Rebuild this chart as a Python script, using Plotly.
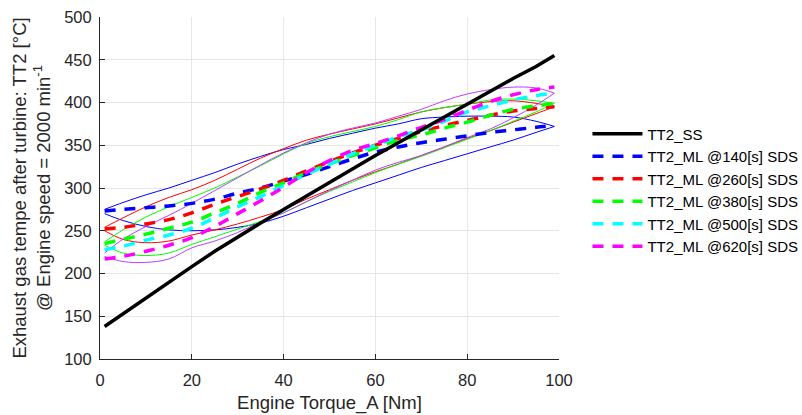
import plotly.graph_objects as go

# ---------------- data ----------------
x_ss = [1, 5, 10, 15, 20, 25, 30, 35, 40, 45, 50, 55, 60, 65, 70, 75, 80, 85, 90, 95, 99]
tt2_ss = [138, 153, 171, 190, 208, 226, 243, 259, 275, 291, 307, 323, 338, 353, 368, 384, 399, 414, 428, 442, 455]

x_ml = [1, 5, 10, 15, 20, 25, 30, 35, 40, 45, 50, 55, 60, 65, 70, 75, 80, 85, 90, 95, 99]

ml140_mean = [273, 275, 277, 279, 282, 287, 294, 300, 308, 316, 325, 334, 342, 348, 353, 357, 361, 365, 368, 371, 373]
ml140_upper = [275, 283, 292, 300, 309, 318, 328, 337, 345, 351, 358, 364, 370, 375, 381, 383, 384, 384, 383, 378, 372]
ml140_lower = [270, 262, 255, 251, 250, 251, 254, 259, 267, 277, 287, 297, 306, 315, 324, 332, 340, 348, 356, 365, 372]

ml260_mean = [252, 254, 258, 263, 271, 281, 290, 299, 309, 320, 331, 341, 350, 358, 366, 373, 379, 385, 390, 393, 395]
ml260_upper = [254, 265, 278, 289, 298, 309, 322, 335, 346, 356, 363, 369, 375, 382, 389, 394, 398, 401, 402, 399, 395]
ml260_lower = [250, 240, 236, 238, 245, 251, 258, 266, 275, 287, 298, 309, 319, 328, 338, 348, 358, 367, 377, 387, 395]

ml380_mean = [235, 240, 246, 253, 260, 271, 282, 295, 306, 318, 328, 338, 347, 356, 362, 370, 377, 385, 392, 396, 399]
ml380_upper = [237, 251, 266, 278, 289, 300, 313, 326, 340, 352, 360, 366, 372, 380, 389, 394, 398, 403, 404, 402, 399]
ml380_lower = [233, 224, 221, 224, 234, 243, 252, 261, 271, 284, 296, 307, 318, 328, 337, 347, 357, 367, 378, 389, 399]

ml500_mean = [228, 232, 239, 245, 253, 265, 278, 290, 303, 316, 328, 340, 350, 360, 368, 378, 389, 396, 403, 408, 411]

ml620_mean = [217, 220, 226, 233, 242, 255, 270, 285, 301, 318, 332, 344, 352, 361, 371, 380, 391, 401, 409, 415, 418]
ml620_upper = [224, 240, 255, 268, 282, 297, 312, 327, 341, 353, 363, 370, 376, 384, 392, 402, 410, 415, 418, 417, 411]
ml620_lower = [220, 214, 213, 217, 230, 238, 248, 260, 271, 284, 297, 309, 321, 330, 338, 348, 359, 369, 382, 397, 411]

x_ticks = [0, 20, 40, 60, 80, 100]
y_ticks = [100, 150, 200, 250, 300, 350, 400, 450, 500]

names = ["TT2_ML @140[s] SDS", "TT2_ML @260[s] SDS", "TT2_ML @380[s] SDS",
         "TT2_ML @500[s] SDS", "TT2_ML @620[s] SDS"]
colors = ["#0000ff", "#ff0000", "#00ff00", "#00ffff", "#ff00ff"]
means = [ml140_mean, ml260_mean, ml380_mean, ml500_mean, ml620_mean]
envelopes = [(ml140_upper, ml140_lower, "#0000ff"),
             (ml260_upper, ml260_lower, "#ff0000"),
             (ml380_upper, ml380_lower, "#00ff00"),
             (ml620_upper, ml620_lower, "#c03cff")]

FONT = "Arial, Liberation Sans, Helvetica, sans-serif"

fig = go.Figure()

# thin envelope lines
for up, lo, c in envelopes:
    for yy in (up, lo):
        fig.add_trace(go.Scatter(x=x_ml, y=yy, mode="lines", showlegend=False,
                                 line=dict(color=c, width=1, shape="spline"),
                                 hoverinfo="skip"))

# dashed mean lines
for i, (nm, c, m) in enumerate(zip(names, colors, means)):
    fig.add_trace(go.Scatter(x=x_ml, y=m, mode="lines", name=nm, legendrank=2 + i,
                             line=dict(color=c, width=3.5, dash="11px,9px", shape="spline")))

# steady state line
fig.add_trace(go.Scatter(x=x_ss, y=tt2_ss, mode="lines", name="TT2_SS", legendrank=1,
                         line=dict(color="black", width=3.5)))

fig.update_layout(
    width=802, height=415,
    margin=dict(l=100, r=243, t=17, b=56, autoexpand=False),
    paper_bgcolor="white", plot_bgcolor="white",
    font=dict(family=FONT, size=16.5, color="#262626"),
    showlegend=True,
    legend=dict(x=1.062, y=0.706, xanchor="left", yanchor="top",
                font=dict(family=FONT, size=15, color="#000000"),
                bgcolor="rgba(0,0,0,0)", itemwidth=50, tracegroupgap=0),
    xaxis=dict(range=[0, 100], tickvals=x_ticks, ticks="inside", ticklen=5, tickcolor="#262626",
               showline=True, linecolor="#262626", linewidth=1, mirror=False,
               showgrid=True, gridcolor="#e6e6e6", gridwidth=1, zeroline=False,
               ticklabelstandoff=6,
               tickfont=dict(family=FONT, size=16.5, color="#262626"),
               title=dict(text="Engine Torque_A [Nm]", font=dict(family=FONT, size=18.5, color="#262626"), standoff=8)),
    yaxis=dict(range=[100, 500], tickvals=y_ticks, ticks="inside", ticklen=5, tickcolor="#262626",
               showline=True, linecolor="#262626", linewidth=1, mirror=False,
               showgrid=True, gridcolor="#e6e6e6", gridwidth=1, zeroline=False,
               ticklabelstandoff=4,
               tickfont=dict(family=FONT, size=16.5, color="#262626"),
               title=dict(text="Exhaust gas tempe after turbine: TT2 [°C]<br>@ Engine speed = 2000 min<sup>-1</sup>",
                          font=dict(family=FONT, size=18.5, color="#262626"), standoff=8)),
)

fig.write_html("out.html", config={"displayModeBar": False},
               post_script="document.body.style.margin='0';")
